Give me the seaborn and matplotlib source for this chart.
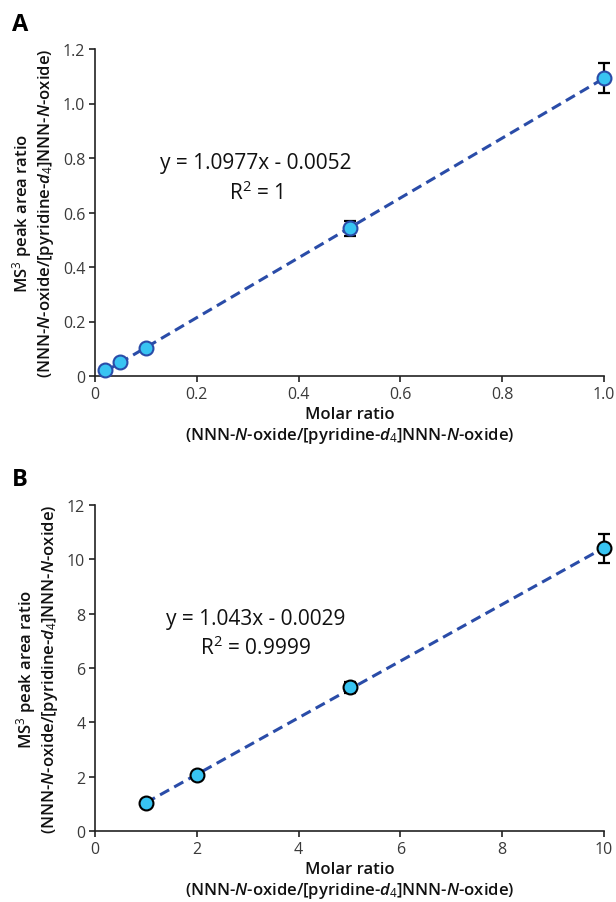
import matplotlib
matplotlib.use("Agg")
import numpy as np
import pandas as pd
import seaborn as sns
import matplotlib.pyplot as plt

# Calibration A: low molar ratios
ratio_a = [0.02, 0.05, 0.1, 0.5, 1.0]
area_a = [0.021, 0.053, 0.104, 0.542, 1.094]
err_a = [0.0, 0.0, 0.0, 0.027, 0.055]
slope_a, intercept_a, r2_a = 1.0977, -0.0052, "1"

# Calibration B: high molar ratios
ratio_b = [1, 2, 5, 10]
area_b = [1.02, 2.06, 5.29, 10.41]
err_b = [0.0, 0.0, 0.20, 0.53]
slope_b, intercept_b, r2_b = 1.043, -0.0029, "0.9999"

xticks_a = [0, 0.2, 0.4, 0.6, 0.8, 1.0]
xticklabels_a = ["0", "0.2", "0.4", "0.6", "0.8", "1.0"]
yticks_a = [0, 0.2, 0.4, 0.6, 0.8, 1.0, 1.2]
yticklabels_a = ["0", "0.2", "0.4", "0.6", "0.8", "1.0", "1.2"]
xticks_b = [0, 2, 4, 6, 8, 10]
yticks_b = [0, 2, 4, 6, 8, 10, 12]

sns.set_theme(style="ticks")
plt.rcParams["font.family"] = ["Open Sans", "DejaVu Sans"]
plt.rcParams["mathtext.fontset"] = "custom"
plt.rcParams["mathtext.rm"] = "Open Sans"
plt.rcParams["mathtext.it"] = "Open Sans:italic:semibold"
plt.rcParams["mathtext.bf"] = "Open Sans:bold"
plt.rcParams["axes.linewidth"] = 1.2
plt.rcParams["xtick.major.width"] = 1.2
plt.rcParams["ytick.major.width"] = 1.2
plt.rcParams["xtick.major.size"] = 4
plt.rcParams["ytick.major.size"] = 4

FILL = "#38c4f2"
LINE = "#2a4ca8"

xlabel = "Molar ratio\n(NNN-$\\mathit{N}$-oxide/[pyridine-$\\mathit{d}_{\\mathrm{4}}$]NNN-$\\mathit{N}$-oxide)"
ylabel = "MS$^{3}$ peak area ratio\n(NNN-$\\mathit{N}$-oxide/[pyridine-$\\mathit{d}_{\\mathrm{4}}$]NNN-$\\mathit{N}$-oxide)"

fig = plt.figure(figsize=(6.16, 9.03), dpi=100)
W, H = 616, 903


def panel(rect, ratio, area, err, slope, intercept, r2, xlim, ylim,
          xticks, xtl, yticks, ytl, edge, eq_x, eq_y, r2_y, letter, letter_y):
    l, t, r, b = rect
    ax = fig.add_axes([l / W, 1 - b / H, (r - l) / W, (b - t) / H])
    df = pd.DataFrame({"ratio": ratio, "area": area, "err": err})
    fit = pd.DataFrame({"ratio": [ratio[0], ratio[-1]]})
    fit["area"] = slope * fit["ratio"] + intercept
    sns.lineplot(data=fit, x="ratio", y="area", ax=ax, color=LINE,
                 linestyle=(0, (3.4, 1.9)), linewidth=2.2, zorder=2)
    eb = ax.errorbar(df["ratio"], df["area"], yerr=df["err"], fmt="none",
                     ecolor="black", elinewidth=1.6, capsize=4, capthick=1.6,
                     zorder=3)
    for art in list(eb.lines[1]) + list(eb.lines[2]):
        art.set_clip_on(False)
    sns.scatterplot(data=df, x="ratio", y="area", ax=ax, s=100, color=FILL,
                    edgecolor=edge, linewidth=1.5, zorder=4, clip_on=False)
    ax.set_xlim(*xlim)
    ax.set_ylim(*ylim)
    ax.set_xticks(xticks)
    ax.set_xticklabels(xtl)
    ax.set_yticks(yticks)
    ax.set_yticklabels(ytl)
    ax.tick_params(labelsize=11.5, labelcolor="#3a3a3a", color="#222222", pad=3)
    for s in ("left", "bottom"):
        ax.spines[s].set_color("#222222")
    sns.despine(ax=ax)
    ax.set_xlabel(xlabel, fontsize=12, fontweight="semibold", labelpad=3,
                  linespacing=1.2, color="#111111")
    ax.set_ylabel(ylabel, fontsize=12, fontweight="semibold", labelpad=5,
                  linespacing=1.15, color="#111111")
    ax.text(eq_x, eq_y, f"y = {slope}x - {abs(intercept):.4f}",
            ha="center", va="center", fontsize=15, color="#111111")
    ax.text(eq_x, r2_y, f"R$^{{2}}$ = {r2}",
            ha="center", va="center", fontsize=15, color="#111111")
    fig.text(12 / W, 1 - letter_y / H, letter, fontsize=17, fontweight="bold",
             ha="left", va="top", color="black")
    return ax


panel((95, 50, 604, 377), ratio_a, area_a, err_a, slope_a, intercept_a, r2_a,
      (0, 1.0), (0, 1.2), xticks_a, xticklabels_a, yticks_a, yticklabels_a,
      LINE, 0.316, 0.785, 0.675, "A", 13)
panel((95, 506, 604, 832), ratio_b, area_b, err_b, slope_b, intercept_b, r2_b,
      (0, 10), (0, 12), xticks_b, [str(v) for v in xticks_b], yticks_b,
      [str(v) for v in yticks_b], "black", 3.16, 7.84, 6.77, "B", 468)

fig.savefig("out.png", dpi=100)
